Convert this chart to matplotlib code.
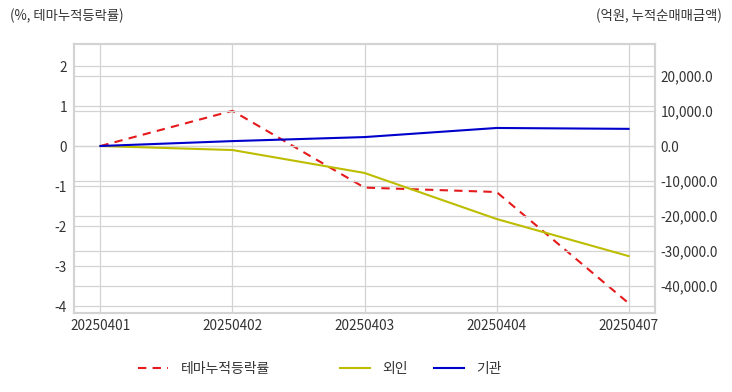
import matplotlib
matplotlib.use("Agg")
import matplotlib.pyplot as plt
from matplotlib.ticker import FuncFormatter

plt.rcParams['font.family'] = ['Noto Sans CJK KR', 'DejaVu Sans']
plt.rcParams['axes.unicode_minus'] = False

dates = ["20250401", "20250402", "20250403", "20250404", "20250407"]
theme_rate = [0.0, 0.88, -1.04, -1.15, -3.93]
foreign = [0.0, -1150.0, -7700.0, -20850.0, -31450.0]
institution = [0.0, 1400.0, 2550.0, 5150.0, 4900.0]

fig = plt.figure(figsize=(7.32, 3.92), dpi=100)
ax = fig.add_axes([74/732, 1-313/392, (655-74)/732, (313-44)/392])
ax2 = ax.twinx()

x = list(range(len(dates)))
grid_c = "#d3d3d3"
text_c = "#333333"

l1, = ax.plot(x, theme_rate, color="#e41a1c", linestyle=(0, (4, 3)), linewidth=1.5, label="테마누적등락률", zorder=3)
l2, = ax2.plot(x, foreign, color="#bdbd00", linewidth=1.5, label="외인", zorder=3)
l3, = ax2.plot(x, institution, color="#0000cc", linewidth=1.5, label="기관", zorder=3)

ax.set_xlim(-0.2, 4.2)
ax.set_ylim(-4.175, 2.55)
ax2.set_ylim(-47714, 29143)
ax.set_yticks([-4, -3, -2, -1, 0, 1, 2])
ax2.set_yticks([-40000, -30000, -20000, -10000, 0, 10000, 20000])
ax2.yaxis.set_major_formatter(FuncFormatter(lambda v, p: f"{v:,.1f}"))
ax.set_xticks(x)
ax.set_xticklabels(dates)

ax.grid(True, color=grid_c, linewidth=0.9)
ax2.grid(True, axis='y', color=grid_c, linewidth=0.9)
ax.set_axisbelow(True)
ax2.set_axisbelow(True)

for a in (ax, ax2):
    for s in a.spines.values():
        s.set_color(grid_c)
        s.set_linewidth(1.5)
    a.tick_params(length=0, labelsize=9.8, colors=text_c)
ax.tick_params(axis='y', pad=5)
ax2.tick_params(axis='y', pad=4)
ax.tick_params(axis='x', pad=4)

fig.text(10/732, 1-16/392, "(%, 테마누적등락률)", fontsize=9.6, color=text_c, va='center', ha='left')
fig.text(722/732, 1-16/392, "(억원, 누적순매매금액)", fontsize=9.6, color=text_c, va='center', ha='right')

legend_pos = [132, 334, 428]
for h, lx in zip([l1, l2, l3], legend_pos):
    leg = fig.legend(handles=[h], loc='center left', bbox_to_anchor=(lx/732, 1-369/392),
                     frameon=False, fontsize=10, handlelength=2.2, handletextpad=0.9,
                     labelcolor=text_c, borderaxespad=0, borderpad=0.4)

fig.savefig("out.png", dpi=100)
